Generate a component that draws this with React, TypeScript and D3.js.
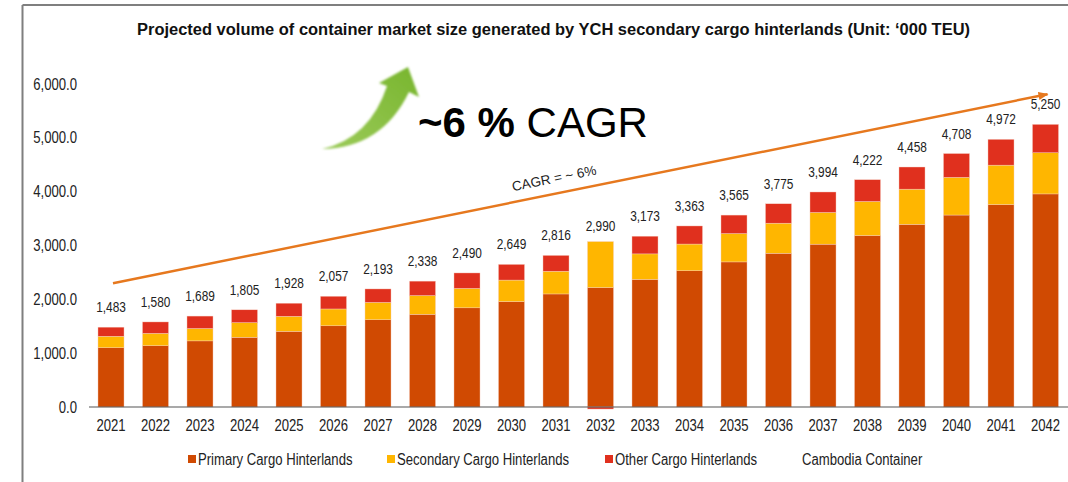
import React from "react";
import * as d3 from "d3";

const years = ["2021","2022","2023","2024","2025","2026","2027","2028","2029","2030","2031","2032","2033","2034","2035","2036","2037","2038","2039","2040","2041","2042"];
const primary = [1100,1138,1228,1295,1405,1508,1620,1722,1842,1958,2100,2218,2370,2530,2695,2856,3025,3185,3393,3566,3760,3958];
const secondary = [215,230,230,272,280,313,323,348,361,400,423,855,474,497,527,559,589,633,654,700,733,765];
const other = [168,212,231,238,243,236,250,268,287,291,293,-38,329,336,343,360,380,404,411,442,479,527];
const totals = [1483,1580,1689,1805,1928,2057,2193,2338,2490,2649,2816,2990,3173,3363,3565,3775,3994,4222,4458,4708,4972,5250];
const yTicks = [0,1000,2000,3000,4000,5000,6000];
const seriesNames = ["Primary Cargo Hinterlands","Secondary Cargo Hinterlands","Other Cargo Hinterlands","Cambodia Container"];
const seriesColors = ["#D04A02","#FFB600","#E0301E",null];
const trendStart = { year: "2021", value: 2300 };
const trendEnd = { year: "2042", value: 5810 };

const W = 1068, H = 482;
const SANS = "'Liberation Sans',Arial,sans-serif";
const NARROW_SCALE = 0.82;

function NText(props: { x: number; y: number; anchor?: string; size: number; bold?: boolean; dy?: string; fill?: string; textLength?: number; children: React.ReactNode }) {
  const { x, y, anchor = "start", size, bold, dy, fill = "#222", textLength, children } = props;
  return (
    <text
      transform={`translate(${x},${y}) scale(${NARROW_SCALE},1)`}
      textAnchor={anchor}
      dy={dy}
      fontFamily={SANS}
      fontSize={size}
      fontWeight={bold ? "bold" : "normal"}
      fill={fill}
      textLength={textLength}
      lengthAdjust={textLength ? "spacingAndGlyphs" : undefined}
    >
      {children}
    </text>
  );
}

export default function App() {
  const x = d3.scaleBand<string>().domain(years).range([88.75, 1067.75]).paddingInner(0.415).paddingOuter(0.2075);
  const y = d3.scaleLinear().domain([0, 6000]).range([407, 84]);
  const bw = x.bandwidth();
  const fmtTick = d3.format(",.1f");
  const fmtVal = d3.format(",");

  const segs: { key: string; x: number; y: number; h: number; fill: string }[] = [];
  years.forEach((yr, i) => {
    const vals = [primary[i], secondary[i], other[i]];
    let pos = 0, neg = 0;
    vals.forEach((v, k) => {
      let y0, y1;
      if (v >= 0) { y0 = pos; y1 = pos + v; pos = y1; } else { y0 = neg + v; y1 = neg; neg = y0; }
      const top = y(y1), bot = y(y0);
      segs.push({ key: yr + "-" + k, x: x(yr)!, y: top, h: bot - top, fill: seriesColors[k]! });
    });
  });

  const tx0 = x(trendStart.year)! + bw / 2 + 2, ty0 = y(trendStart.value);
  const tx1 = x(trendEnd.year)! + bw / 2 + 2, ty1 = y(trendEnd.value);
  const ang = Math.atan2(ty1 - ty0, tx1 - tx0) * 180 / Math.PI;
  const lx = 555, ly = ty0 + (ty1 - ty0) * (lx - tx0) / (tx1 - tx0) - 11;

  const legendX = [188, 387, 605, 802];

  return (
    <svg width={W} height={H} style={{ position: "absolute", left: 0, top: 0, background: "#fff" }}>
      <defs>
        <marker id="ah" viewBox="0 0 10 8" refX="9" refY="4" markerWidth="10" markerHeight="8" markerUnits="userSpaceOnUse" orient="auto">
          <path d="M0,0 L10,4 L0,8 Z" fill="#E6781E" />
        </marker>
        <filter id="blur" x="-10%" y="-10%" width="120%" height="120%">
          <feGaussianBlur stdDeviation="0.8" />
        </filter>
        <linearGradient id="gg" x1="0" y1="1" x2="1" y2="0">
          <stop offset="0" stopColor="#9CCB5A" />
          <stop offset="1" stopColor="#78B52E" />
        </linearGradient>
      </defs>
      {/* frame */}
      <line x1={22.5} y1={5} x2={W} y2={5} stroke="#7f7f7f" strokeWidth={2} />
      <line x1={22.5} y1={5} x2={22.5} y2={H} stroke="#7f7f7f" strokeWidth={2} />
      {/* title */}
      <NText x={553.5} y={35} anchor="middle" size={17} bold fill="#111" textLength={833 / NARROW_SCALE}>
        Projected volume of container market size generated by YCH secondary cargo hinterlands (Unit: ‘000 TEU)
      </NText>
      {/* y axis labels */}
      {yTicks.map(t => (
        <NText key={t} x={77} y={y(t)} dy="0.35em" anchor="end" size={16}>{fmtTick(t)}</NText>
      ))}
      {/* bars */}
      {segs.map(s => (
        <rect key={s.key} x={s.x} y={s.y} width={bw} height={Math.max(0, s.h)} fill={s.fill} stroke="#f6d0c4" strokeWidth={0.4} />
      ))}
      {/* baseline */}
      <line x1={89} y1={y(0)} x2={W} y2={y(0)} stroke="#555" strokeWidth={1.2} />
      {/* value labels */}
      {years.map((yr, i) => (
        <NText key={yr} x={x(yr)! + bw / 2} y={y(totals[i]) - 20} dy="0.35em" anchor="middle" size={14.5}>{fmtVal(totals[i])}</NText>
      ))}
      {/* year labels */}
      {years.map(yr => (
        <NText key={yr} x={x(yr)! + bw / 2} y={425} dy="0.35em" anchor="middle" size={16}>{yr}</NText>
      ))}
      {/* trend arrow */}
      <line x1={tx0} y1={ty0} x2={tx1} y2={ty1} stroke="#E6781E" strokeWidth={2.5} markerEnd="url(#ah)" />
      <text x={lx} y={ly} textAnchor="middle" transform={`rotate(${ang},${lx},${ly})`} fontFamily={SANS} fontSize={13.5} fill="#222">CAGR = ~ 6%</text>
      {/* green arrow */}
      <path d="M322,149 Q370,138 387,86 L379,83 L408,67 L419,97 L409,92 Q382,148 322,149 Z" fill="url(#gg)" filter="url(#blur)" />
      <text x={418} y={137} fontFamily={SANS} fontSize={42} fill="#000">
        <tspan fontWeight="bold">~6 %</tspan><tspan> CAGR</tspan>
      </text>
      {/* legend */}
      {seriesNames.map((n, i) => (
        <g key={n}>
          {seriesColors[i] && <rect x={legendX[i]} y={455} width={8} height={8} fill={seriesColors[i]!} />}
          <NText x={seriesColors[i] ? legendX[i] + 10 : legendX[i]} y={465} size={16}>{n}</NText>
        </g>
      ))}
    </svg>
  );
}
